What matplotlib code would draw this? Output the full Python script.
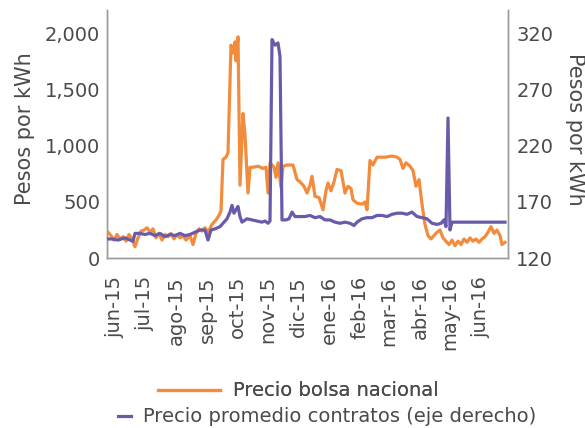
import numpy as np
import pandas as pd
import matplotlib
matplotlib.use("Agg")
import matplotlib.pyplot as plt
from matplotlib.lines import Line2D

plt.rcParams['font.family'] = ['DejaVu Sans']

# days after 2015-06-01
bolsa_days = [-7, -4, -1, 2, 5, 8, 11, 14, 17, 20, 23, 26, 29, 32, 35, 38, 41, 44,
              47, 50, 53, 56, 59, 62, 65, 68, 71, 75, 78, 81, 84, 87, 90, 93, 97,
              101, 104, 106, 108, 111, 113, 115, 116, 118, 120, 121, 123, 125, 128,
              130, 133, 135, 138, 143, 148, 151, 153, 155, 159, 161, 163, 166, 168,
              172, 178, 182, 185, 189, 192, 195, 197, 200, 204, 208, 211, 213, 216,
              219, 222, 226, 230, 233, 236, 238, 242, 247, 250, 252, 255, 258, 262,
              270, 277, 282, 285, 288, 291, 295, 298, 301, 304, 307, 310, 313, 316,
              319, 322, 325, 328, 331, 334, 337, 340, 343, 346, 349, 352, 355, 358,
              361, 364, 367, 370, 373, 376, 379, 382, 385, 387, 390]
bolsa = [230, 200, 160, 210, 170, 190, 150, 210, 170, 100, 180, 240, 250, 270,
         230, 260, 180, 220, 160, 210, 190, 220, 170, 210, 180, 200, 160, 200,
         120, 220, 260, 240, 270, 230, 300, 340, 380, 420, 880, 900, 940, 1600,
         1900, 1830, 1930, 1760, 1975, 650, 1290, 1100, 580, 810, 810, 820, 800,
         810, 580, 850, 810, 720, 850, 630, 820, 830, 830, 700, 680, 640, 580,
         650, 730, 550, 540, 430, 600, 670, 600, 680, 790, 780, 580, 640, 620,
         520, 490, 480, 500, 430, 870, 830, 900, 900, 910, 900, 880, 800, 850,
         820, 780, 640, 700, 480, 300, 200, 170, 200, 230, 250, 180, 150, 120,
         160, 110, 150, 120, 170, 140, 180, 150, 170, 140, 170, 190, 230, 280,
         220, 250, 200, 120, 140]

contratos_days = [-7, -3, 3, 10, 15, 18, 20, 25, 30, 35, 40, 45, 50, 55, 60, 65,
                  70, 75, 80, 85, 90, 93, 96, 100, 105, 109, 112, 115, 117, 119,
                  121, 123, 125, 127, 132, 137, 142, 147, 150, 153, 155, 157, 160,
                  163, 165, 167, 171, 174, 177, 180, 185, 190, 195, 200, 205, 210,
                  215, 220, 225, 230, 235, 239, 242, 247, 252, 257, 262, 267, 272,
                  277, 282, 287, 292, 297, 302, 307, 312, 317, 322, 326, 329, 331,
                  333, 335, 337, 345, 355, 365, 375, 385, 390]
contratos = [137, 137, 136, 138, 136, 135, 142, 142, 141, 142, 140, 142, 139,
             141, 140, 142, 140, 141, 143, 145, 145, 136, 145, 146, 148, 152, 155,
             161, 167, 160, 163, 166, 157, 152, 155, 154, 153, 152, 153, 151, 153,
             315, 310, 312, 300, 154, 154, 155, 161, 157, 157, 157, 158, 156, 157,
             154, 154, 152, 151, 152, 151, 149, 152, 155, 156, 156, 158, 158, 157,
             159, 160, 160, 159, 161, 157, 156, 155, 151, 150, 151, 154, 148, 245,
             145, 152, 152, 152, 152, 152, 152, 152]

month_labels = ['jun-15', 'jul-15', 'ago-15', 'sep-15', 'oct-15', 'nov-15', 'dic-15',
                'ene-16', 'feb-16', 'mar-16', 'abr-16', 'may-16', 'jun-16']

orange = '#F28C3C'
purple = '#6A5BAA'
text_c = '#4a4a4a'
spine_c = '#9a9a9a'
fs = 14

base = pd.Timestamp('2015-06-01')
x1 = base + pd.to_timedelta(bolsa_days, unit='D')
x2 = base + pd.to_timedelta(contratos_days, unit='D')
ticks = pd.date_range('2015-06-01', periods=len(month_labels), freq='MS')

fig = plt.figure(figsize=(5.85, 4.28), dpi=100)
ax = fig.add_axes([107 / 585, 1 - 258 / 428, 401 / 585, 248 / 428])
ax2 = ax.twinx()

ax.plot(x1, bolsa, color=orange, lw=2.3, zorder=3)
ax2.plot(x2, contratos, color=purple, lw=2.3, zorder=3)

ax.set_xlim(base - pd.Timedelta(days=8), base + pd.Timedelta(days=393))
ax.set_ylim(0, 2214)
ax2.set_ylim(120, 341.4)
ax.set_yticks([0, 500, 1000, 1500, 2000])
ax.set_yticklabels(['0', '500', '1,000', '1,500', '2,000'])
ax2.set_yticks([120, 170, 220, 270, 320])
ax.set_xticks(ticks)
ax.set_xticklabels(month_labels, rotation=90)

ax.tick_params(axis='x', length=0, pad=13, labelsize=fs, labelcolor=text_c)
ax.tick_params(axis='y', length=0, pad=5, labelsize=fs, labelcolor=text_c)
ax2.tick_params(axis='y', length=0, pad=6, labelsize=fs, labelcolor=text_c)

for a in (ax, ax2):
    a.spines['top'].set_visible(False)
    for s in ('left', 'right', 'bottom'):
        a.spines[s].set_color(spine_c)
        a.spines[s].set_linewidth(1.0)

ax.set_ylabel('Pesos por kWh', fontsize=15, color=text_c)
ax.yaxis.set_label_coords((25 - 107) / 401, 0.52)
ax.yaxis.label.set_verticalalignment('center')
ax2.set_ylabel('Pesos por kWh', fontsize=15, color=text_c, rotation=270)
ax2.yaxis.set_label_coords((575 - 107) / 401, 0.52)
ax2.yaxis.label.set_verticalalignment('center')

h1 = Line2D([], [], color=orange, lw=2.3)
h2 = Line2D([], [], color=purple, lw=2.3)
leg1 = fig.legend([h1], ['Precio bolsa nacional'], loc='center',
                  bbox_to_anchor=(298 / 585, 1 - 391 / 428), frameon=False,
                  fontsize=fs, handlelength=3.2, handletextpad=0.65,
                  labelcolor=text_c, borderpad=0, borderaxespad=0)
fig.add_artist(leg1)
fig.legend([h2], ['Precio promedio contratos (eje derecho)'], loc='center',
           bbox_to_anchor=(327 / 585, 1 - 417 / 428), frameon=False,
           fontsize=fs, handlelength=0.67, handletextpad=0.62,
           labelcolor=text_c, borderpad=0, borderaxespad=0)

fig.savefig('out.png', dpi=100)
